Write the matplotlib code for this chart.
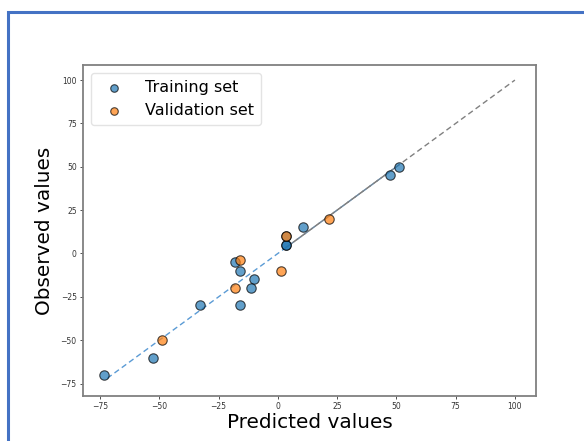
import matplotlib
matplotlib.use("Agg")
import matplotlib.pyplot as plt
from matplotlib.patches import Rectangle

# Data
train_pred = [-73.5, -52.5, -33, -18, -16, -10, -11.5, -16, 3.5, 3.5, 3.5, 10.7, 47.3, 51.2]
train_obs = [-70, -60, -30, -5, -10, -15, -20, -30, 5, 5, 10, 15, 45, 50]
val_pred = [-49, -16, -18, 3.5, 1.2, 21.7]
val_obs = [-50, -4, -20, 10, -10, 20]
fit_x = [-72, 51]
ident_x = [3.5, 100]

fig = plt.figure(figsize=(5.84, 4.41), dpi=100)
ax = fig.add_axes([83/584, 1-396/441, (536-83)/584, (396-65)/441])

ax.plot(fit_x, fit_x, ls='--', color='#5b9bd5', lw=1.0, dashes=(4, 2.5), zorder=1)
ax.plot(ident_x, ident_x, ls='--', color='grey', lw=1.0, dashes=(4, 2.5), zorder=1)
ax.plot([ident_x[0], fit_x[1]], [ident_x[0], fit_x[1]], ls='-', color='grey', lw=0.9, alpha=0.8, zorder=1)

ax.scatter(train_pred, train_obs, s=46, color='#1f77b4', alpha=0.7, edgecolors='black',
           linewidths=0.8, label='Training set', zorder=2)
ax.scatter(val_pred, val_obs, s=46, color='#ff7f0e', alpha=0.7, edgecolors='black',
           linewidths=0.8, label='Validation set', zorder=3)

ax.set_xlim(-82.2, 108.9)
ax.set_ylim(-82.2, 108.7)
ax.set_xticks([-75, -50, -25, 0, 25, 50, 75, 100])
ax.set_yticks([-75, -50, -25, 0, 25, 50, 75, 100])
ax.tick_params(labelsize=5.5, length=2.5, width=0.6, colors='#333333', pad=2)
for sp in ax.spines.values():
    sp.set_color('#808080')
    sp.set_linewidth(1.3)

ax.set_xlabel('Predicted values', fontsize=14.4, labelpad=1)
ax.set_ylabel('Observed values', fontsize=14.4, labelpad=5)

leg = ax.legend(loc='upper left', fontsize=11.5, handletextpad=0.95, borderpad=0.45,
                labelspacing=0.5, markerscale=0.8, frameon=True)
leg.get_frame().set_edgecolor('#dddddd')

fig.patches.append(Rectangle((8/584, -0.1), 2, 1.1 - 12/441, transform=fig.transFigure,
                             fill=False, edgecolor='#4472C4', linewidth=2.2, figure=fig))
fig.savefig('out.png', dpi=100)
